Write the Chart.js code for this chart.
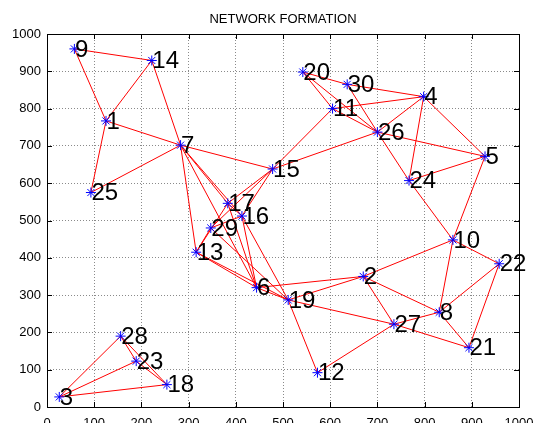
<!DOCTYPE html>
<html>
<head>
<meta charset="utf-8">
<script src="https://cdn.jsdelivr.net/npm/chart.js@4/dist/chart.umd.min.js"></script>
<style>
  html, body { margin: 0; padding: 0; background: #fff; }
  #wrap { width: 533px; height: 423px; }
</style>
</head>
<body>
<div id="wrap"><canvas id="c" width="533" height="423"></canvas></div>
<script>
// Node numbers and their coordinates
const nodeIds = [1,2,3,4,5,6,7,8,9,10,11,12,13,14,15,16,17,18,19,20,21,22,23,24,25,26,27,28,29,30];
const nodeX = [125,670,26,798,928,444,283,831,58,860,605,573,316,222,478,413,383,254,511,542,894,958,189,767,93,700,735,156,347,636];
const nodeY = [767,350,27,832,672,320,702,254,960,448,800,92,415,929,638,512,546,60,287,898,159,384,123,607,575,737,222,190,480,865];

// Links between nodes (from / to node numbers)
const edgeFrom = [9,9,14,14,1,1,25,7, 7,7,7,7, 15,15,15,15,15, 17,17,17,29,29,29,16,16,13,13, 6,6,19,19,19,27,2,2,2,27,27, 8,8,8,10,22,10,10, 20,20,20,30,30,11,11,26,26,26,4,4,24, 28,28,23,3,3,3];
const edgeTo   = [14,1,1,7,7,25,7,15, 13,17,16,6, 17,29,16,11,26, 13,16,6,16,13,19,6,19,6,19, 2,19,2,27,12,21,27,8,10,8,12, 10,22,21,22,21,24,5, 11,26,30,4,26,4,26,4,5,24,24,5,5, 23,18,18,28,23,18];

const axisTicks = [0,100,200,300,400,500,600,700,800,900,1000];

const pos = id => ({ x: nodeX[nodeIds.indexOf(id)], y: nodeY[nodeIds.indexOf(id)] });

const datasets = edgeFrom.map((f, i) => ({
  data: [pos(f), pos(edgeTo[i])],
  showLine: true,
  borderColor: '#ff0000',
  borderWidth: 1,
  pointRadius: 0,
  pointHoverRadius: 0,
  fill: false,
  order: 2
}));

datasets.push({
  data: nodeIds.map((id, i) => ({ x: nodeX[i], y: nodeY[i] })),
  showLine: false,
  pointStyle: 'star',
  pointRadius: 5,
  pointBorderColor: '#0000ff',
  pointBackgroundColor: '#0000ff',
  pointBorderWidth: 1,
  order: 1
});

// Title, node numbers, box and inward tick marks
const decor = {
  id: 'decor',
  afterDatasetsDraw(chart) {
    const { ctx, chartArea: a, scales: { x, y } } = chart;
    ctx.save();
    ctx.fillStyle = '#000';
    ctx.font = '24px "Liberation Sans", Arial, sans-serif';
    ctx.textAlign = 'left';
    ctx.textBaseline = 'middle';
    nodeIds.forEach((id, i) => {
      ctx.fillText(String(id), x.getPixelForValue(nodeX[i]) + 0.5, y.getPixelForValue(nodeY[i]) + 1);
    });

    ctx.strokeStyle = '#000';
    ctx.lineWidth = 1;
    ctx.beginPath();
    axisTicks.forEach(v => {
      const px = Math.round(x.getPixelForValue(v)) + 0.5;
      const py = Math.round(y.getPixelForValue(v)) + 0.5;
      ctx.moveTo(px, a.bottom); ctx.lineTo(px, a.bottom - 5);
      ctx.moveTo(px, a.top); ctx.lineTo(px, a.top + 5);
      ctx.moveTo(a.left, py); ctx.lineTo(a.left + 5, py);
      ctx.moveTo(a.right, py); ctx.lineTo(a.right - 5, py);
    });
    ctx.stroke();
    ctx.strokeRect(Math.round(a.left) + 0.5, Math.round(a.top) + 0.5,
                   Math.round(a.right - a.left), Math.round(a.bottom - a.top));

    ctx.font = '13px "Liberation Sans", Arial, sans-serif';
    ctx.textAlign = 'center';
    ctx.fillText('NETWORK FORMATION', (a.left + a.right) / 2, 19);
    ctx.restore();
  }
};

const tickFont = { family: '"Liberation Sans", Arial, sans-serif', size: 13 };
const plainLabel = v => String(v);

new Chart(document.getElementById('c'), {
  type: 'scatter',
  data: { datasets },
  options: {
    responsive: false,
    animation: false,
    events: [],
    layout: { padding: { left: 0, top: 34, right: 14, bottom: 0 } },
    plugins: { legend: { display: false }, tooltip: { enabled: false }, title: { display: false } },
    scales: {
      x: {
        type: 'linear', min: 0, max: 1000,
        ticks: { stepSize: 100, color: '#000', font: tickFont, padding: 9, maxRotation: 0, autoSkip: false, callback: plainLabel },
        grid: { color: '#8a8a8a', lineWidth: 1, drawTicks: false },
        border: { display: false, dash: [1, 2] },
        afterFit(s) { s.height = 16; s.paddingLeft = 0; s.paddingRight = 0; }
      },
      y: {
        type: 'linear', min: 0, max: 1000,
        ticks: { stepSize: 100, color: '#000', font: tickFont, padding: 6, autoSkip: false, callback: plainLabel },
        grid: { color: '#8a8a8a', lineWidth: 1, drawTicks: false },
        border: { display: false, dash: [1, 2] },
        afterFit(s) { s.width = 47; s.paddingTop = 0; s.paddingBottom = 0; }
      }
    }
  },
  plugins: [decor]
});
</script>
</body>
</html>
